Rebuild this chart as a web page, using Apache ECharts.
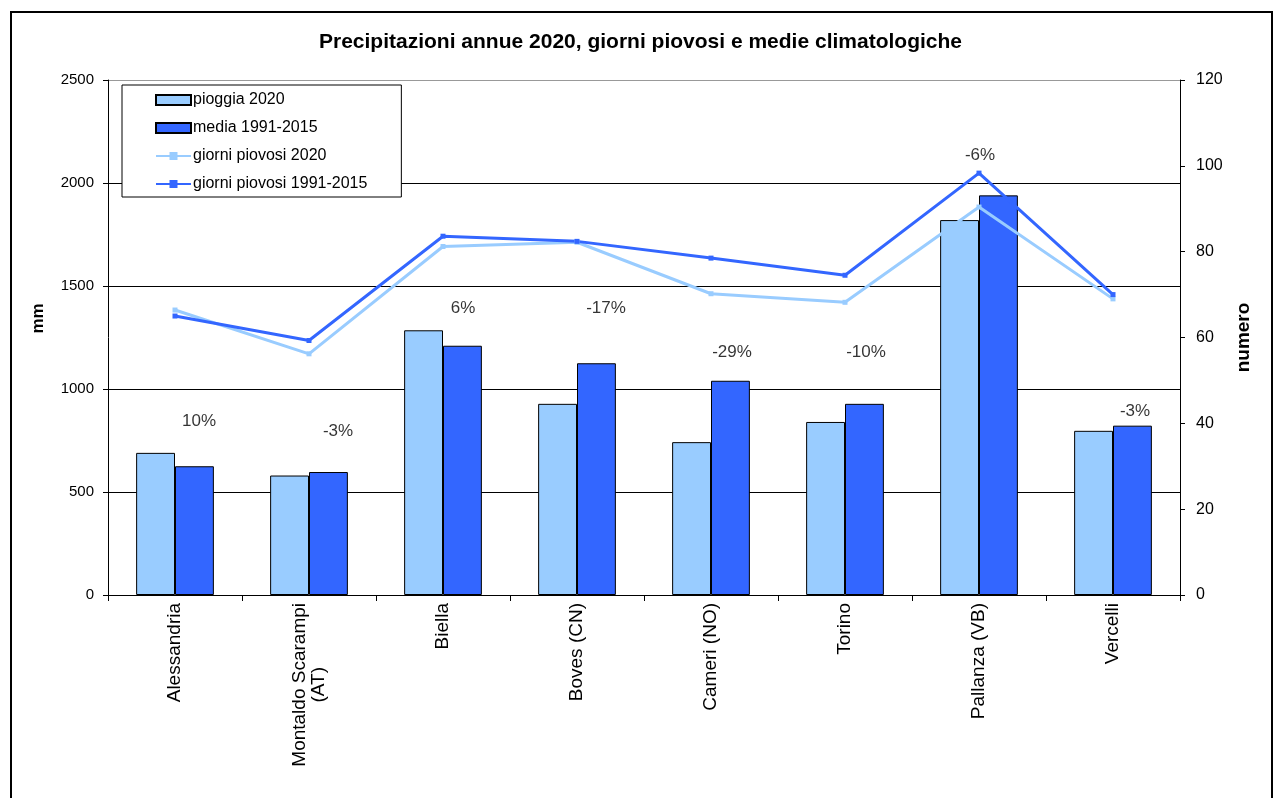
<!DOCTYPE html>
<html>
<head>
<meta charset="utf-8">
<script src="https://cdn.jsdelivr.net/npm/echarts@6/dist/echarts.min.js"></script>
<style>
  html, body { margin: 0; padding: 0; background: #fff; }
  #main { width: 1281px; height: 798px; }
</style>
</head>
<body>
<div id="main"></div>
<script>
// stazioni
var stazioni = ["Alessandria", "Montaldo Scarampi\n(AT)", "Biella", "Boves (CN)", "Cameri (NO)", "Torino", "Pallanza (VB)", "Vercelli"];
// precipitazioni (mm)
var pioggia2020 = [690, 580, 1285, 928, 742, 840, 1820, 797];
var media9115 = [625, 597, 1210, 1125, 1040, 928, 1940, 822];
// giorni piovosi
var giorni2020 = [66.4, 56.2, 81.2, 82.2, 70.2, 68.2, 90.4, 69.0];
var giorni9115 = [65.0, 59.3, 83.6, 82.4, 78.5, 74.5, 98.3, 70.0];
// scarto percentuale e altezza etichetta (mm)
var scarti = ["10%", "-3%", "6%", "-17%", "-29%", "-10%", "-6%", "-3%"];
var altezzeScarti = [845, 796, 1393, 1393, 1180, 1180, 2136, 893];
var spostScarti = [24, 29, 20, 29, 21, 21, 1, 22];

var font = "Liberation Sans, Arial, sans-serif";
var catSize = 19;
var myChart = echarts.init(document.getElementById("main"));

// larghezza testo per centrare la seconda riga di "Montaldo Scarampi (AT)"
var ctx = document.createElement("canvas").getContext("2d");
ctx.font = catSize + "px " + font;
function larghezza(t) {
  return ctx.measureText(t).width;
}
var righeMontaldo = stazioni[1].split("\n");
var spazioAT = Math.round((larghezza(righeMontaldo[0]) - larghezza(righeMontaldo[1])) / 2);

var option = {
  backgroundColor: "#fff",
  animation: false,
  textStyle: { fontFamily: font, color: "#000" },
  title: {
    text: "Precipitazioni annue 2020, giorni piovosi e medie climatologiche",
    left: "center",
    top: 27,
    textStyle: { fontFamily: font, fontSize: 21, fontWeight: "bold", color: "#000" },
  },
  graphic: [
    {
      type: "rect",
      shape: { x: 11, y: 12, width: 1261, height: 800 },
      style: { fill: "none", stroke: "#000", lineWidth: 2 },
      silent: true,
    },
  ],
  legend: {
    orient: "vertical",
    left: 122,
    top: 85,
    padding: [7, 34, 5, 33],
    itemWidth: 35,
    itemHeight: 10,
    itemGap: 12,
    borderColor: "#000",
    borderWidth: 1,
    backgroundColor: "#fff",
    textStyle: { fontFamily: font, fontSize: 16, color: "#000", padding: [0, 0, 0, -3] },
    data: [
      { name: "pioggia 2020", icon: "rect" },
      { name: "media 1991-2015", icon: "rect" },
      { name: "giorni piovosi 2020" },
      { name: "giorni piovosi 1991-2015" },
    ],
  },
  grid: { left: 108, right: 101, top: 80, bottom: 203 },
  xAxis: {
    type: "category",
    data: stazioni,
    axisLine: { lineStyle: { color: "#000", width: 1 } },
    axisTick: { show: true, length: 6, alignWithLabel: false, lineStyle: { color: "#000" } },
    axisLabel: {
      rotate: 90,
      interval: 0,
      margin: 8,
      color: "#000",
      fontFamily: font,
      fontSize: catSize,
      formatter: function (v) {
        var righe = v.split("\n");
        if (righe.length < 2) return v;
        return "{c|" + righe[0] + "}\n{c|" + righe[1] + "}{s|}";
      },
      rich: {
        c: { fontFamily: font, fontSize: catSize, color: "#000" },
        s: { width: spazioAT },
      },
    },
  },
  yAxis: [
    {
      type: "value",
      name: "mm",
      nameLocation: "middle",
      nameGap: 61,
      nameTextStyle: { fontFamily: font, fontSize: 17, fontWeight: "bold", color: "#000", padding: [0, 0, 0, 38] },
      min: 0,
      max: 2500,
      interval: 500,
      axisLine: { show: true, lineStyle: { color: "#000" } },
      axisTick: { show: true, length: 5, lineStyle: { color: "#000" } },
      axisLabel: {
        color: "#000",
        fontFamily: font,
        fontSize: 15,
        margin: 14,
        formatter: function (v) { return String(v); },
      },
      splitLine: {
        show: true,
        lineStyle: { color: ["#000", "#000", "#000", "#000", "#000", "#999"], width: 1 },
      },
    },
    {
      type: "value",
      name: "numero",
      nameLocation: "middle",
      nameGap: 54,
      nameTextStyle: { fontFamily: font, fontSize: 19, fontWeight: "bold", color: "#000" },
      min: 0,
      max: 120,
      interval: 20,
      axisLine: { show: true, lineStyle: { color: "#000" } },
      axisTick: { show: true, length: 5, lineStyle: { color: "#000" } },
      axisLabel: { color: "#000", fontFamily: font, fontSize: 16, margin: 16 },
      splitLine: { show: false },
    },
  ],
  series: [
    {
      name: "pioggia 2020",
      type: "bar",
      data: pioggia2020,
      barGap: "0%",
      barCategoryGap: "42%",
      itemStyle: { color: "#99CCFF", borderColor: "#000", borderWidth: 1 },
    },
    {
      name: "media 1991-2015",
      type: "bar",
      data: media9115,
      itemStyle: { color: "#3366FF", borderColor: "#000", borderWidth: 1 },
    },
    {
      name: "giorni piovosi 2020",
      type: "line",
      yAxisIndex: 1,
      data: giorni2020,
      symbol: "rect",
      symbolSize: 5,
      lineStyle: { color: "#99CCFF", width: 3 },
      itemStyle: { color: "#99CCFF" },
    },
    {
      name: "giorni piovosi 1991-2015",
      type: "line",
      yAxisIndex: 1,
      data: giorni9115,
      symbol: "rect",
      symbolSize: 5,
      lineStyle: { color: "#3366FF", width: 3 },
      itemStyle: { color: "#3366FF" },
    },
    {
      name: "scarti",
      type: "scatter",
      symbolSize: 0,
      silent: true,
      data: altezzeScarti.map(function (h, i) {
        return {
          value: [i, h],
          label: { offset: [spostScarti[i], 0] },
        };
      }),
      label: {
        show: true,
        position: "inside",
        color: "#000",
        fontFamily: font,
        fontSize: 17,
        formatter: function (p) { return scarti[p.dataIndex]; },
      },
      z: 5,
    },
  ],
};

myChart.setOption(option);
</script>
</body>
</html>
